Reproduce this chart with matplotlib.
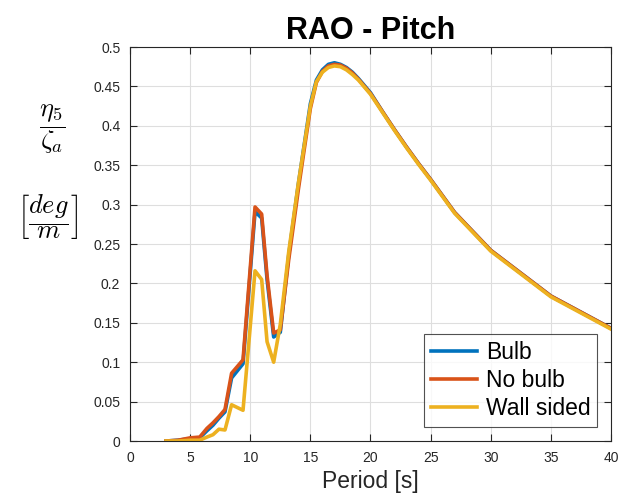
import matplotlib
matplotlib.use("Agg")
import matplotlib.pyplot as plt
import numpy as np

plt.rcParams['font.family'] = ['Liberation Sans', 'DejaVu Sans']
plt.rcParams['mathtext.fontset'] = 'cm'

# Wave period [s]
period = [3.0, 4.0, 5.0, 5.8, 6.4, 6.9, 7.4, 7.9, 8.45, 9.4, 10.4, 10.95, 11.4, 11.95,
          12.5, 13.2, 14.0, 14.5, 15.0, 15.5, 16.0, 16.5, 17.0, 17.5, 18.0, 18.5, 19.0,
          20.0, 21.0, 22.0, 23.0, 24.0, 25.0, 27.0, 30.0, 35.0, 40.0]

# Pitch RAO [deg/m]
rao_bulb = [0.0, 0.001, 0.003, 0.004, 0.013, 0.020, 0.029, 0.037, 0.080, 0.098, 0.291, 0.283,
            0.205, 0.132, 0.138, 0.236, 0.326, 0.377, 0.428, 0.458, 0.471, 0.478, 0.480, 0.478,
            0.474, 0.468, 0.460, 0.442, 0.418, 0.395, 0.373, 0.352, 0.332, 0.290, 0.242,
            0.184, 0.143]
rao_nobulb = [0.0, 0.001, 0.004, 0.005, 0.016, 0.023, 0.031, 0.040, 0.086, 0.103, 0.297, 0.288,
              0.210, 0.137, 0.141, 0.230, 0.319, 0.371, 0.422, 0.455, 0.469, 0.476, 0.478, 0.477,
              0.473, 0.467, 0.459, 0.441, 0.418, 0.395, 0.373, 0.352, 0.332, 0.290, 0.242,
              0.184, 0.143]
rao_wall = [0.0, 0.0, 0.001, 0.001, 0.005, 0.008, 0.015, 0.014, 0.046, 0.039, 0.216, 0.205,
            0.126, 0.100, 0.148, 0.240, 0.327, 0.376, 0.425, 0.456, 0.468, 0.474, 0.476, 0.475,
            0.471, 0.465, 0.458, 0.440, 0.417, 0.394, 0.372, 0.351, 0.331, 0.289, 0.241,
            0.183, 0.142]

series_names = ['Bulb', 'No bulb', 'Wall sided']
series_colors = ['#0072BD', '#D95319', '#EDB120']

x_ticks = [0, 5, 10, 15, 20, 25, 30, 35, 40]
y_ticks = [0, 0.05, 0.1, 0.15, 0.2, 0.25, 0.3, 0.35, 0.4, 0.45, 0.5]
y_tick_labels = ['0', '0.05', '0.1', '0.15', '0.2', '0.25', '0.3', '0.35', '0.4', '0.45', '0.5']

fig = plt.figure(figsize=(6.21, 4.99), dpi=100)
ax = fig.add_axes([0.2093, 0.1162, 0.7746, 0.7896])

for vals, name, col in zip([rao_bulb, rao_nobulb, rao_wall], series_names, series_colors):
    ax.plot(period, vals, color=col, lw=2.6, label=name, solid_joinstyle='round')

ax.set_xlim(0, 40)
ax.set_ylim(0, 0.5)
ax.set_xticks(x_ticks)
ax.set_yticks(y_ticks)
ax.set_yticklabels(y_tick_labels)
ax.grid(True, color='#dedede', lw=0.8)
ax.set_axisbelow(True)

ax.tick_params(direction='in', top=True, right=True, length=5, width=0.8,
               colors='#262626', labelsize=10, pad=7)
for sp in ax.spines.values():
    sp.set_color('#262626')
    sp.set_linewidth(0.8)

ax.set_xlabel('Period [s]', fontsize=16.5, color='#262626', labelpad=4)
ax.set_title('RAO - Pitch', fontsize=22, fontweight='bold', pad=6)

# Vertical-axis quantity and unit, written horizontally to the left of the axes
fig.text(0.083, 0.74, r'$\dfrac{\eta_5}{\zeta_a}$', fontsize=19, ha='center', va='center')
fig.text(0.076, 0.567, r'$\left[\dfrac{deg}{m}\right]$', fontsize=19, ha='center', va='center')

leg = ax.legend(loc='lower right', fontsize=16.5, frameon=True, fancybox=False,
                edgecolor='#262626', handlelength=2.0, handletextpad=0.4,
                borderpad=0.3, labelspacing=0.22, borderaxespad=0.6)
leg.get_frame().set_linewidth(0.8)
for line in leg.get_lines():
    line.set_linewidth(2.6)

fig.savefig('out.png', dpi=100)
